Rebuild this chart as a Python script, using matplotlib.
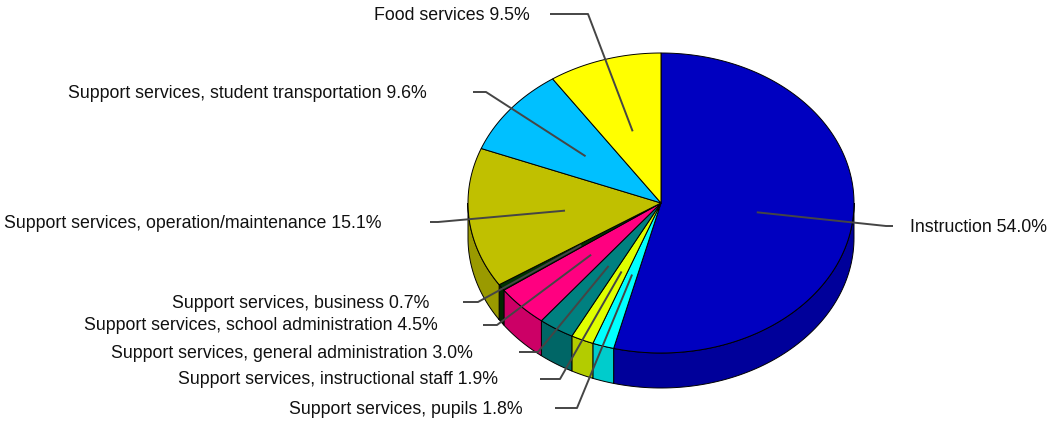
import numpy as np
import matplotlib
matplotlib.use('Agg')
import matplotlib.pyplot as plt
from matplotlib.patches import Polygon

plt.rcParams['font.family'] = ['Liberation Sans', 'DejaVu Sans']

# data, clockwise from 12 o'clock
categories = ['Instruction',
              'Support services, pupils',
              'Support services, instructional staff',
              'Support services, general administration',
              'Support services, school administration',
              'Support services, business',
              'Support services, operation/maintenance',
              'Support services, student transportation',
              'Food services']
shares = [54.0, 1.8, 1.9, 3.0, 4.5, 0.7, 15.1, 9.6, 9.5]
colours = ['#0000C0', '#00FFFF', '#E0FF00', '#008080', '#FF0080',
           '#003300', '#C0C000', '#00C0FF', '#FFFF00']

# label layout (pixels): elbow x, line end x, line y, text x, text side
label_pos = [(886, 893, 226, 910, 'l'),
             (577, 555, 408, 523, 'r'),
             (560, 540, 379, 498, 'r'),
             (538, 519, 352, 473, 'r'),
             (497, 483, 325, 438, 'r'),
             (478, 463, 302, 429, 'r'),
             (438, 430, 222, 382, 'r'),
             (486, 473, 92, 427, 'r'),
             (588, 550, 14, 530, 'r')]

W, H = 1050, 422
cx, cy = 661, 203
rx, ry = 193, 150
depth = 35

fig = plt.figure(figsize=(W / 100, H / 100), dpi=100)
ax = fig.add_axes([0, 0, 1, 1])
ax.set_xlim(0, W)
ax.set_ylim(H, 0)
ax.axis('off')


def pt(theta, dy=0.0, f=1.0):
    t = np.radians(theta)
    return cx + f * rx * np.cos(t), cy - f * ry * np.sin(t) + dy


def darker(c, k=0.8):
    r, g, b = matplotlib.colors.to_rgb(c)
    return (r * k, g * k, b * k)


fracs = np.array(shares) / sum(shares)
starts = 90 - 360 * np.concatenate([[0], np.cumsum(fracs)[:-1]])
ends = 90 - 360 * np.cumsum(fracs)

# side walls (front half only)
for a0, a1, col in zip(starts, ends, colours):
    hi, lo = min(a0, 0), max(a1, -180)
    if hi <= lo:
        continue
    th = np.linspace(hi, lo, 80)
    top = [pt(t) for t in th]
    bot = [pt(t, depth) for t in th[::-1]]
    ax.add_patch(Polygon(top + bot, closed=True, facecolor=darker(col),
                         edgecolor='black', lw=0.7, zorder=1))

# top faces
for a0, a1, col in zip(starts, ends, colours):
    th = np.linspace(a0, a1, max(int(abs(a0 - a1)), 2) + 1)
    poly = [(cx, cy)] + [pt(t) for t in th]
    ax.add_patch(Polygon(poly, closed=True, facecolor=col,
                         edgecolor='black', lw=0.7, zorder=2))

# leader lines and labels
for a0, a1, name, val, (ex, lx, ly, tx, side) in zip(starts, ends, categories,
                                                     shares, label_pos):
    mx, my = pt((a0 + a1) / 2, f=0.5)
    ax.plot([mx, ex, lx], [my, ly, ly], color='#454545', lw=1.4,
            zorder=3, solid_capstyle='butt')
    txt = f'{name} {val:.1f}%'
    ax.text(tx, ly + 1, txt, ha='left' if side == 'l' else 'right',
            va='center', fontsize=12.8, color='#111111')

fig.savefig('out.png', dpi=100)
